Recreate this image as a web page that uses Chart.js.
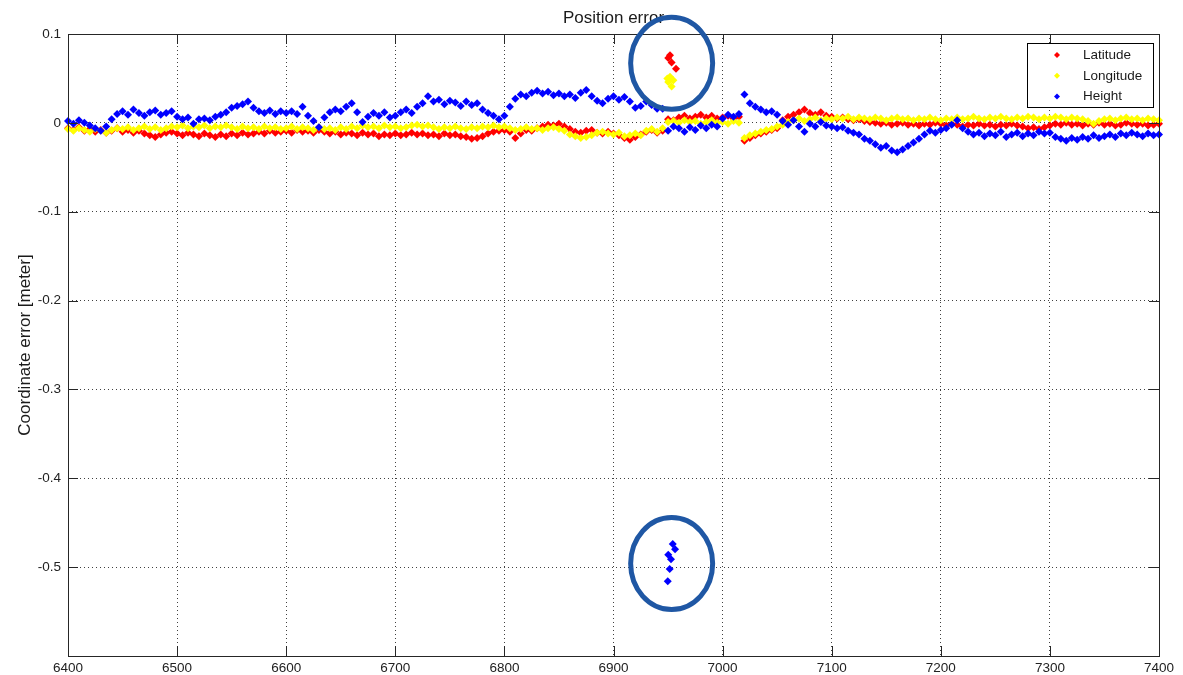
<!DOCTYPE html>
<html>
<head>
<meta charset="utf-8">
<title>Position error</title>
<script src="https://cdn.jsdelivr.net/npm/chart.js@4.4.0/dist/chart.umd.min.js"></script>
<style>
  html, body { margin: 0; padding: 0; background: #fff; }
  #wrap { width: 1183px; height: 675px; position: relative; }
</style>
</head>
<body>
<div id="wrap"><canvas id="chart"></canvas></div>
<script>
// epochs run 6400..7400, one sample every 5 units
const sampleStart = 6400;
const sampleStep = 5;

// coordinate errors in meters
const latitude = [
  -0.006, -0.008, -0.005, -0.009, -0.007, -0.010, -0.008, -0.011, -0.009, -0.006, -0.010, -0.008, -0.011, -0.009, -0.012, -0.014, -0.016, -0.013, -0.011, -0.010,
  -0.012, -0.014, -0.011, -0.013, -0.015, -0.012, -0.014, -0.016, -0.013, -0.015, -0.012, -0.014, -0.011, -0.013, -0.012, -0.010, -0.012, -0.009, -0.011, -0.010,
  -0.009, -0.011, -0.008, -0.010, -0.009, -0.011, -0.008, -0.010, -0.012, -0.010, -0.013, -0.011, -0.012, -0.014, -0.011, -0.013, -0.012, -0.015, -0.013, -0.014,
  -0.012, -0.014, -0.013, -0.011, -0.013, -0.012, -0.014, -0.013, -0.015, -0.012, -0.014, -0.013, -0.015, -0.016, -0.018, -0.017, -0.015, -0.012, -0.010, -0.009,
  -0.008, -0.010, -0.017, -0.012, -0.008, -0.009, -0.006, -0.004, -0.002, -0.003, -0.001, -0.004, -0.007, -0.010, -0.011, -0.009, -0.008, -0.011, -0.012, -0.010,
  -0.012, -0.014, -0.017, -0.019, -0.016, -0.013, -0.010, -0.008, -0.011, -0.009, 0.004, 0.003, 0.006, 0.008, 0.005, 0.007, 0.009, 0.006, 0.008, 0.005,
  0.006, 0.008, 0.005, 0.007, -0.020, -0.017, -0.014, -0.012, -0.010, -0.008, -0.006, 0.003, 0.007, 0.009, 0.012, 0.015, 0.011, 0.009, 0.012, 0.008,
  0.007, 0.005, 0.006, 0.004, 0.003, 0.004, 0.002, 0.001, 0.000, -0.001, 0.000, -0.002, -0.001, 0.000, -0.002, -0.001, -0.003, -0.001, -0.002, 0.000,
  -0.001, -0.003, -0.001, -0.002, -0.004, -0.002, -0.003, -0.001, -0.003, -0.002, -0.004, -0.002, -0.003, -0.001, -0.003, -0.004, -0.006, -0.005, -0.007, -0.005,
  -0.003, -0.001, -0.002, 0.000, -0.002, -0.001, -0.003, -0.001, -0.002, 0.000, -0.002, -0.001, -0.003, -0.002, 0.000, -0.001, -0.002, -0.001, -0.003, -0.002, -0.001
];
const longitude = [
  -0.007, -0.009, -0.006, -0.008, -0.010, -0.007, -0.009, -0.011, -0.008, -0.006, -0.007, -0.005, -0.008, -0.006, -0.004, -0.007, -0.005, -0.008, -0.006, -0.004,
  -0.005, -0.003, -0.006, -0.004, -0.005, -0.003, -0.006, -0.004, -0.005, -0.003, -0.005, -0.007, -0.004, -0.006, -0.005, -0.007, -0.004, -0.006, -0.005, -0.007,
  -0.006, -0.004, -0.007, -0.005, -0.006, -0.008, -0.005, -0.007, -0.006, -0.008, -0.005, -0.007, -0.004, -0.006, -0.003, -0.005, -0.004, -0.006, -0.003, -0.005,
  -0.004, -0.006, -0.005, -0.003, -0.002, -0.004, -0.003, -0.005, -0.007, -0.005, -0.006, -0.004, -0.006, -0.007, -0.005, -0.006, -0.004, -0.005, -0.003, -0.005,
  -0.004, -0.006, -0.008, -0.007, -0.005, -0.007, -0.006, -0.008, -0.006, -0.005, -0.007, -0.009, -0.013, -0.015, -0.017, -0.016, -0.014, -0.011, -0.010, -0.012,
  -0.013, -0.011, -0.015, -0.014, -0.012, -0.014, -0.009, -0.007, -0.010, -0.006, 0.001, 0.002, 0.000, 0.003, 0.001, 0.002, -0.001, 0.001, 0.003, 0.000,
  0.001, -0.001, 0.002, 0.000, -0.017, -0.014, -0.012, -0.010, -0.008, -0.007, -0.004, -0.002, 0.001, 0.003, 0.005, 0.002, 0.004, 0.006, 0.003, 0.005,
  0.004, 0.006, 0.005, 0.007, 0.004, 0.006, 0.005, 0.004, 0.006, 0.005, 0.003, 0.005, 0.006, 0.004, 0.005, 0.003, 0.005, 0.004, 0.006, 0.004,
  0.003, 0.005, 0.004, 0.006, 0.004, 0.005, 0.007, 0.005, 0.004, 0.006, 0.005, 0.007, 0.005, 0.004, 0.006, 0.005, 0.007, 0.006, 0.004, 0.006,
  0.005, 0.007, 0.006, 0.004, 0.006, 0.005, 0.004, 0.002, -0.001, 0.002, 0.004, 0.005, 0.003, 0.005, 0.006, 0.004, 0.005, 0.003, 0.005, 0.004, 0.003
];
const height = [
  0.002, -0.001, 0.003, 0.000, -0.003, -0.006, -0.009, -0.004, 0.004, 0.010, 0.013, 0.009, 0.015, 0.011, 0.008, 0.012, 0.014, 0.009, 0.011, 0.013,
  0.007, 0.004, 0.006, -0.001, 0.004, 0.005, 0.003, 0.007, 0.009, 0.012, 0.017, 0.019, 0.021, 0.024, 0.017, 0.013, 0.011, 0.014, 0.010, 0.013,
  0.011, 0.013, 0.010, 0.018, 0.008, 0.002, -0.005, 0.006, 0.012, 0.015, 0.013, 0.018, 0.022, 0.012, 0.001, 0.007, 0.011, 0.008, 0.012, 0.006,
  0.008, 0.012, 0.015, 0.011, 0.018, 0.022, 0.030, 0.024, 0.026, 0.021, 0.025, 0.023, 0.019, 0.024, 0.020, 0.022, 0.015, 0.011, 0.008, 0.004,
  0.008, 0.018, 0.027, 0.032, 0.030, 0.034, 0.036, 0.033, 0.035, 0.031, 0.033, 0.030, 0.032, 0.028, 0.034, 0.037, 0.030, 0.025, 0.022, 0.027,
  0.030, 0.026, 0.029, 0.024, 0.017, 0.019, 0.024, 0.020, 0.016, 0.016, -0.009, -0.004, -0.006, -0.010, -0.005, -0.008, -0.003, -0.006, -0.002, -0.004,
  0.005, 0.009, 0.007, 0.010, 0.032, 0.022, 0.018, 0.015, 0.012, 0.013, 0.009, 0.002, -0.002, 0.003, -0.004, -0.010, -0.001, -0.004, 0.001, -0.003,
  -0.004, -0.006, -0.005, -0.009, -0.011, -0.013, -0.018, -0.020, -0.024, -0.028, -0.026, -0.031, -0.033, -0.030, -0.026, -0.022, -0.018, -0.013, -0.009, -0.011,
  -0.008, -0.006, -0.002, 0.003, -0.006, -0.010, -0.013, -0.011, -0.015, -0.012, -0.014, -0.010, -0.016, -0.013, -0.011, -0.015, -0.012, -0.014, -0.010, -0.012,
  -0.011, -0.016, -0.018, -0.020, -0.017, -0.019, -0.016, -0.018, -0.014, -0.017, -0.015, -0.013, -0.016, -0.012, -0.014, -0.011, -0.013, -0.015, -0.012, -0.014, -0.013
];

// the jump around epoch 6950 (the circled points)
const latJumpX = [6950.2, 6951.8, 6953.3, 6957.3];
const latJumpY = [0.073, 0.076, 0.068, 0.061];
const lonJumpX = [6949.3, 6950.2, 6951.8, 6953.3, 6954.9];
const lonJumpY = [0.050, 0.046, 0.052, 0.041, 0.048];
const hgtJumpX = [6949.7, 6950.2, 6951.5, 6952.7, 6954.3, 6956.4];
const hgtJumpY = [-0.516, -0.486, -0.502, -0.491, -0.474, -0.480];

// circle annotations, centred in data units
const circleCentres = [[6953.3, 0.067], [6953.3, -0.496]];

const seriesNames = ['Latitude', 'Longitude', 'Height'];
const seriesColors = ['#ff0000', '#ffff00', '#0000ff'];

function toPoints(values, jumpX, jumpY) {
  let pts = values.map((v, i) => ({ x: sampleStart + i * sampleStep, y: v }));
  jumpX.forEach((x, i) => pts.push({ x: x, y: jumpY[i] }));
  return pts;
}

const FONT = 'Arial, "Liberation Sans", Helvetica, sans-serif';
const TICK_LEN = 10;

const matlabLook = {
  id: 'matlabLook',
  afterDatasetsDraw(chart) {
    const { ctx, chartArea: a, scales: { x, y } } = chart;
    ctx.save();
    ctx.strokeStyle = '#262626';
    ctx.lineWidth = 1;
    ctx.beginPath();
    x.ticks.forEach(t => {
      let px = Math.round(x.getPixelForValue(t.value)) + 0.5;
      ctx.moveTo(px, a.bottom); ctx.lineTo(px, a.bottom - TICK_LEN);
      ctx.moveTo(px, a.top); ctx.lineTo(px, a.top + TICK_LEN);
    });
    y.ticks.forEach(t => {
      let py = Math.round(y.getPixelForValue(t.value)) + 0.5;
      ctx.moveTo(a.left, py); ctx.lineTo(a.left + TICK_LEN, py);
      ctx.moveTo(a.right, py); ctx.lineTo(a.right - TICK_LEN, py);
    });
    ctx.stroke();
    ctx.strokeRect(Math.round(a.left) + 0.5, Math.round(a.top) + 0.5,
      Math.round(a.right - a.left), Math.round(a.bottom - a.top));
    ctx.restore();
  },
  afterDraw(chart) {
    const { ctx, chartArea: a, scales: { x, y } } = chart;
    ctx.save();

    // title
    ctx.fillStyle = '#1a1a1a';
    ctx.font = '17px ' + FONT;
    ctx.textAlign = 'center';
    ctx.textBaseline = 'alphabetic';
    ctx.fillText('Position error', (a.left + a.right) / 2, 23);

    // y axis label
    ctx.save();
    ctx.translate(30, (a.top + a.bottom) / 2);
    ctx.rotate(-Math.PI / 2);
    ctx.fillText('Coordinate error [meter]', 0, 0);
    ctx.restore();

    // circles
    ctx.strokeStyle = '#1f57a4';
    ctx.lineWidth = 5;
    circleCentres.forEach(c => {
      ctx.beginPath();
      ctx.ellipse(x.getPixelForValue(c[0]), y.getPixelForValue(c[1]), 41, 46, 0, 0, Math.PI * 2);
      ctx.stroke();
    });

    // legend box
    const bx = 1027.5, by = 43.5, bw = 126, bh = 64;
    ctx.fillStyle = '#fff';
    ctx.fillRect(bx, by, bw, bh);
    ctx.strokeStyle = '#000';
    ctx.lineWidth = 1;
    ctx.strokeRect(bx, by, bw, bh);
    ctx.font = '13.5px ' + FONT;
    ctx.textAlign = 'left';
    ctx.textBaseline = 'middle';
    chart.data.datasets.forEach((ds, i) => {
      let ry = 55 + i * 20.8;
      ctx.fillStyle = ds.backgroundColor;
      ctx.beginPath();
      ctx.moveTo(1057, ry - 3); ctx.lineTo(1060, ry);
      ctx.lineTo(1057, ry + 3); ctx.lineTo(1054, ry);
      ctx.closePath();
      ctx.fill();
      ctx.fillStyle = '#1a1a1a';
      ctx.fillText(ds.label, 1083, ry);
    });
    ctx.restore();
  }
};

const datasets = [
  toPoints(latitude, latJumpX, latJumpY),
  toPoints(longitude, lonJumpX, lonJumpY),
  toPoints(height, hgtJumpX, hgtJumpY)
].map((pts, i) => ({
  label: seriesNames[i],
  data: pts,
  backgroundColor: seriesColors[i],
  borderWidth: 0,
  pointStyle: 'rectRot',
  pointRadius: 4,
  pointHoverRadius: 4,
  order: 3 - i,
  clip: 5
}));

new Chart(document.getElementById('chart'), {
  type: 'scatter',
  data: { datasets: datasets },
  options: {
    responsive: true,
    maintainAspectRatio: false,
    animation: false,
    events: [],
    layout: { padding: { top: 34, right: 24, left: 0, bottom: 0 } },
    plugins: {
      legend: { display: false },
      title: { display: false },
      tooltip: { enabled: false }
    },
    scales: {
      x: {
        type: 'linear',
        min: 6400,
        max: 7400,
        afterFit: s => { s.height = 19; },
        ticks: {
          stepSize: 100,
          padding: 4,
          color: '#222',
          font: { family: FONT, size: 13.5 },
          maxRotation: 0,
          callback: v => String(v)
        },
        grid: { color: 'rgba(0,0,0,0.75)', lineWidth: 1, drawTicks: false },
        border: { display: false, dash: [1, 3] }
      },
      y: {
        type: 'linear',
        min: -0.6,
        max: 0.1,
        afterFit: s => { s.width = 68; },
        ticks: {
          stepSize: 0.1,
          padding: 7,
          color: '#222',
          font: { family: FONT, size: 13.5 },
          callback: v => {
            let r = Math.round(v * 10) / 10;
            return r < -0.55 ? '' : String(r);
          }
        },
        grid: { color: 'rgba(0,0,0,0.75)', lineWidth: 1, drawTicks: false },
        border: { display: false, dash: [1, 3] }
      }
    }
  },
  plugins: [matlabLook]
});
</script>
</body>
</html>
